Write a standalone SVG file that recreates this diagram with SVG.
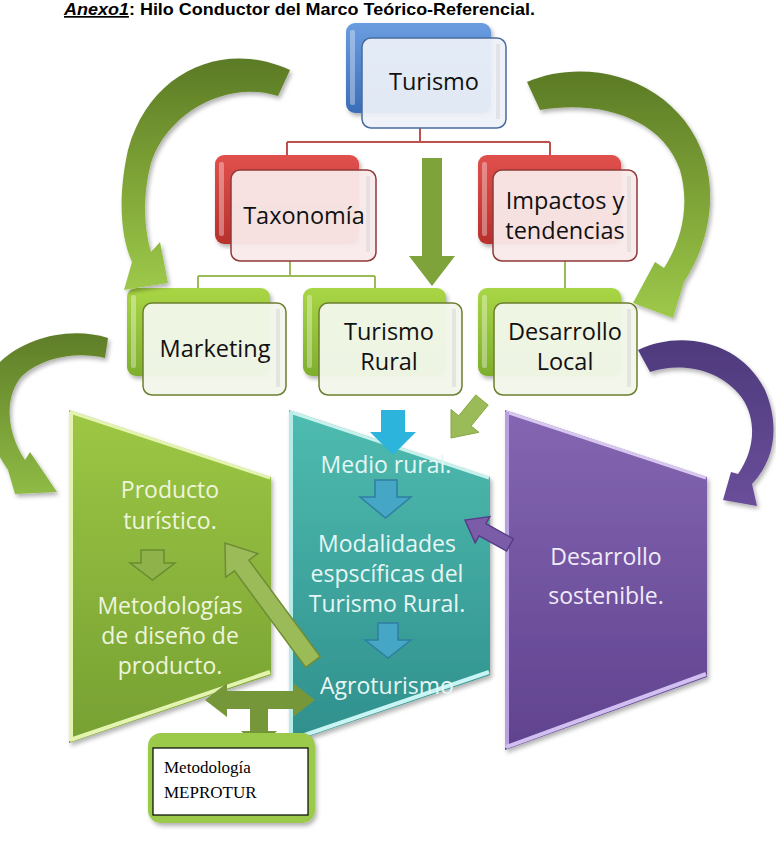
<svg xmlns="http://www.w3.org/2000/svg" width="776" height="846" viewBox="0 0 776 846">
<defs>
  <linearGradient id="gBlue" x1="0" y1="0" x2="0" y2="1"><stop offset="0" stop-color="#6a9de0"/><stop offset="1" stop-color="#3a6db8"/></linearGradient>
  <linearGradient id="gRed" x1="0" y1="0" x2="0" y2="1"><stop offset="0" stop-color="#e0504c"/><stop offset="1" stop-color="#b8302c"/></linearGradient>
  <linearGradient id="gGreen" x1="0" y1="0" x2="0" y2="1"><stop offset="0" stop-color="#a9d645"/><stop offset="1" stop-color="#7fae2e"/></linearGradient>
  <linearGradient id="pGreen" x1="0" y1="0" x2="0" y2="1"><stop offset="0" stop-color="#9dc744"/><stop offset="1" stop-color="#76a032"/></linearGradient>
  <linearGradient id="pTeal" x1="0" y1="0" x2="0" y2="1"><stop offset="0" stop-color="#4fbcb0"/><stop offset="1" stop-color="#2f8f8c"/></linearGradient>
  <linearGradient id="pPurple" x1="0" y1="0" x2="0" y2="1"><stop offset="0" stop-color="#8466b2"/><stop offset="1" stop-color="#60428f"/></linearGradient>
  <linearGradient id="cGreen" x1="0" y1="0" x2="0" y2="1"><stop offset="0" stop-color="#5b7a26"/><stop offset="0.45" stop-color="#7a9e34"/><stop offset="1" stop-color="#9dc94a"/></linearGradient>
  <linearGradient id="cGreen2" x1="0" y1="0" x2="0" y2="1"><stop offset="0" stop-color="#5f7d28"/><stop offset="1" stop-color="#8fbb45"/></linearGradient>
  <linearGradient id="cPurple" x1="0" y1="0" x2="0" y2="1"><stop offset="0" stop-color="#4e3a7c"/><stop offset="1" stop-color="#6a4e9a"/></linearGradient>
  <filter id="sh" x="-20%" y="-20%" width="140%" height="140%"><feDropShadow dx="2" dy="3" stdDeviation="2" flood-color="#000" flood-opacity="0.3"/></filter>
  <style>
    .t{font-family:"Open Sans","Noto Sans","Liberation Sans",sans-serif;font-size:23.5px;fill:#111;text-anchor:middle}
    .p{font-family:"Open Sans","Noto Sans","Liberation Sans",sans-serif;font-size:23px;text-anchor:middle}
    .front{stroke-width:1.5}
    .hl{fill:#ffffff;opacity:0.35}
    .gl{fill:#d8d8d8;opacity:0.6}
  </style>
</defs>
<rect width="776" height="846" fill="#ffffff"/>

<g id="title" font-family="'Liberation Sans',Arial,sans-serif" font-size="17" font-weight="bold" fill="#000">
  <text x="64" y="15" textLength="471" lengthAdjust="spacingAndGlyphs"><tspan font-style="italic" text-decoration="underline">Anexo1</tspan>: Hilo Conductor del Marco Teórico-Referencial.</text>
</g>

<g id="connectors" fill="none" stroke-width="2">
  <path d="M420,128 V142 M287,142 H550 M287,142 V155 M550,142 V155" stroke="#c0504d"/>
  <path d="M290,261 V276 M198,276 H375 M198,276 V289 M375,276 V289 M565,261 V289" stroke="#9bbb59"/>
</g>

<g id="node-turismo">
  <rect x="346" y="23" width="145" height="90" rx="9" fill="url(#gBlue)" filter="url(#sh)"/>
  <rect x="350" y="30" width="5" height="75" rx="2" class="hl"/>
  <rect x="362" y="38" width="144" height="90" rx="9" fill="#eef2f9" fill-opacity="0.93" stroke="#4a6b9e" class="front"/>
  <rect x="496" y="44" width="4" height="75" class="gl"/>
  <text class="t" x="434" y="90">Turismo</text>
</g>

<g id="node-taxonomia">
  <rect x="215" y="155" width="144" height="89" rx="9" fill="url(#gRed)" filter="url(#sh)"/>
  <rect x="219" y="162" width="5" height="74" rx="2" class="hl"/>
  <rect x="231" y="170" width="145" height="91" rx="9" fill="#f9eaea" fill-opacity="0.95" stroke="#8e3a38" class="front"/>
  <rect x="366" y="176" width="4" height="76" class="gl"/>
  <text class="t" x="304" y="224">Taxonomía</text>
</g>

<g id="node-impactos">
  <rect x="478" y="155" width="143" height="89" rx="9" fill="url(#gRed)" filter="url(#sh)"/>
  <rect x="482" y="162" width="5" height="74" rx="2" class="hl"/>
  <rect x="493" y="170" width="144" height="91" rx="9" fill="#f9eaea" fill-opacity="0.95" stroke="#8e3a38" class="front"/>
  <rect x="627" y="176" width="4" height="76" class="gl"/>
  <text class="t" x="565" y="209">Impactos y</text>
  <text class="t" x="565" y="239">tendencias</text>
</g>

<g id="node-marketing">
  <rect x="127" y="288" width="143" height="88" rx="9" fill="url(#gGreen)" filter="url(#sh)"/>
  <rect x="131" y="295" width="5" height="73" rx="2" class="hl"/>
  <rect x="143" y="303" width="143" height="92" rx="9" fill="#f3f7ea" fill-opacity="0.96" stroke="#6b7f2e" class="front"/>
  <rect x="276" y="309" width="4" height="78" class="gl"/>
  <text class="t" x="215" y="357">Marketing</text>
</g>

<g id="node-turismo-rural">
  <rect x="303" y="288" width="143" height="88" rx="9" fill="url(#gGreen)" filter="url(#sh)"/>
  <rect x="307" y="295" width="5" height="73" rx="2" class="hl"/>
  <rect x="319" y="303" width="143" height="92" rx="9" fill="#f3f7ea" fill-opacity="0.96" stroke="#6b7f2e" class="front"/>
  <rect x="452" y="309" width="4" height="78" class="gl"/>
  <text class="t" x="389" y="340">Turismo</text>
  <text class="t" x="389" y="370">Rural</text>
</g>

<g id="node-desarrollo-local">
  <rect x="478" y="288" width="143" height="88" rx="9" fill="url(#gGreen)" filter="url(#sh)"/>
  <rect x="482" y="295" width="5" height="73" rx="2" class="hl"/>
  <rect x="494" y="303" width="143" height="92" rx="9" fill="#f3f7ea" fill-opacity="0.96" stroke="#6b7f2e" class="front"/>
  <rect x="627" y="309" width="4" height="78" class="gl"/>
  <text class="t" x="565" y="340">Desarrollo</text>
  <text class="t" x="565" y="370">Local</text>
</g>

<g id="panel-producto">
  <polygon points="69,410 271,477 271,675 69,743" fill="url(#pGreen)" filter="url(#sh)"/>
  <polyline points="70,412 270,478" fill="none" stroke="#e4f4b0" stroke-width="3"/>
  <line x1="71" y1="412" x2="71" y2="741" stroke="#e4f4b0" stroke-width="4"/>
  <line x1="70" y1="740" x2="270" y2="672" stroke="#e4f4b0" stroke-width="4"/>
  <text class="p" fill="#eef5de" x="170" y="498" font-size="25.5">Producto</text>
  <text class="p" fill="#eef5de" x="170" y="529" font-size="25.5">turístico.</text>
  <polygon points="141,550 164,550 164,563 175,563 152.5,580 130,563 141,563" fill="#8fb34a" stroke="#6a8c30" stroke-width="1.5"/>
  <text class="p" fill="#eef5de" x="170" y="614" font-size="23.5">Metodologías</text>
  <text class="p" fill="#eef5de" x="170" y="644" font-size="23.5">de diseño de</text>
  <text class="p" fill="#eef5de" x="170" y="674" font-size="23.5">producto.</text>
</g>

<g id="panel-medio-rural">
  <polygon points="289,410 490,477 490,675 289,743" fill="url(#pTeal)" filter="url(#sh)"/>
  <polyline points="290,412 489,478" fill="none" stroke="#c8f0ec" stroke-width="3"/>
  <line x1="291" y1="412" x2="291" y2="741" stroke="#b4ecec" stroke-width="4"/>
  <line x1="290" y1="740" x2="489" y2="672" stroke="#c8f4f4" stroke-width="4"/>
  <polygon points="381,410 405,410 405,432 416,432 393,455 370,432 381,432" fill="#2db4dc"/>
  <text class="p" fill="#e6f6f4" x="386" y="473">Medio rural.</text>
  <polygon points="375,480 397,480 397,497 411,497 385.5,518 360,497 375,497" fill="#45a6c6" stroke="#2e7fa0" stroke-width="1.5"/>
  <text class="p" fill="#e6f6f4" x="387" y="552">Modalidades</text>
  <text class="p" fill="#e6f6f4" x="387" y="582">espscíficas del</text>
  <text class="p" fill="#e6f6f4" x="387" y="612">Turismo Rural.</text>
  <polygon points="378,623 398,623 398,640 411,640 388,658 365,640 378,640" fill="#45a6c6" stroke="#2e7fa0" stroke-width="1.5"/>
  <text class="p" fill="#e6f6f4" x="387" y="694">Agroturismo</text>
</g>

<g id="panel-desarrollo-sostenible">
  <polygon points="505,410 707,477 707,677 505,750" fill="url(#pPurple)" filter="url(#sh)"/>
  <polyline points="506,412 706,478" fill="none" stroke="#d8c8f0" stroke-width="3"/>
  <line x1="507" y1="412" x2="507" y2="748" stroke="#b9a0e0" stroke-width="4"/>
  <line x1="506" y1="747" x2="706" y2="674" stroke="#d0bff0" stroke-width="4"/>
  <text class="p" fill="#f1eaf8" x="606" y="565" font-size="26.5">Desarrollo</text>
  <text class="p" fill="#f1eaf8" x="606" y="604" font-size="26.5">sostenible.</text>
</g>

<g id="arrows">
  <polygon points="422,158 442,158 442,256 455,256 432,286 409,256 422,256" fill="#7ea33a"/>
  <path d="M290,70 C225,40 150,70 128,150 C118,195 120,235 132,262 L124,290 L168,283 L160,242 L151,252 C143,225 143,190 152,160 C170,110 230,80 278,96 Z" fill="url(#cGreen)" filter="url(#sh)"/>
  <path d="M527,82 C590,55 680,80 705,160 C718,205 705,250 684,282 L673,318 L633,303 L655,262 L664,268 C682,240 690,205 680,170 C662,118 600,100 540,110 Z" fill="url(#cGreen)" filter="url(#sh)"/>
  <path d="M108,338 C70,326 25,338 0,362 C-25,388 -20,430 8,470 L15,494 L57,492 L30,452 L25,460 C5,430 5,395 22,376 C45,355 80,352 105,358 Z" fill="url(#cGreen2)" filter="url(#sh)"/>
  <path d="M638,350 C680,330 740,340 765,390 C780,425 775,460 752,484 L757,506 L723,500 L731,472 L738,474 C755,450 757,420 742,398 C720,368 680,362 650,372 Z" fill="url(#cPurple)" filter="url(#sh)"/>
  <polygon points="488.2,405.1 471.1,426 478.9,432.3 451,438 451,409.5 458.7,415.8 475.8,394.9" fill="#9bbb59" stroke="#85a845" stroke-width="1"/>
  <polygon points="513.4,538.9 485.9,523.6 489.8,516.6 465,520 475.2,542.8 479.1,535.8 506.6,551.1" fill="#7b5ca8" stroke="#583d86" stroke-width="1.5"/>
  <polygon points="320.2,656.6 248.9,560.1 257.8,553.6 225,543 225.6,577.4 234.5,570.9 305.8,667.4" fill="#9bbb59" stroke="#6f8c34" stroke-width="1.5"/>
  <polygon points="205,700 227,683 227,691 293,691 293,683 315,700 293,717 293,709 268,709 268,731 277,731 259,748 241,731 250,731 250,709 227,709 227,717" fill="#76963a"/>
</g>

<g id="node-meprotur">
  <rect x="148" y="733" width="167" height="90" rx="13" fill="#9bc94a" filter="url(#sh)"/>
  <rect x="153" y="748" width="155" height="67" fill="#ffffff" stroke="#000" stroke-width="1.2"/>
  <text x="164" y="773" font-family="'Liberation Serif','Times New Roman',serif" font-size="17" fill="#000">Metodología</text>
  <text x="164" y="798" font-family="'Liberation Serif','Times New Roman',serif" font-size="17" fill="#000">MEPROTUR</text>
</g>
</svg>
